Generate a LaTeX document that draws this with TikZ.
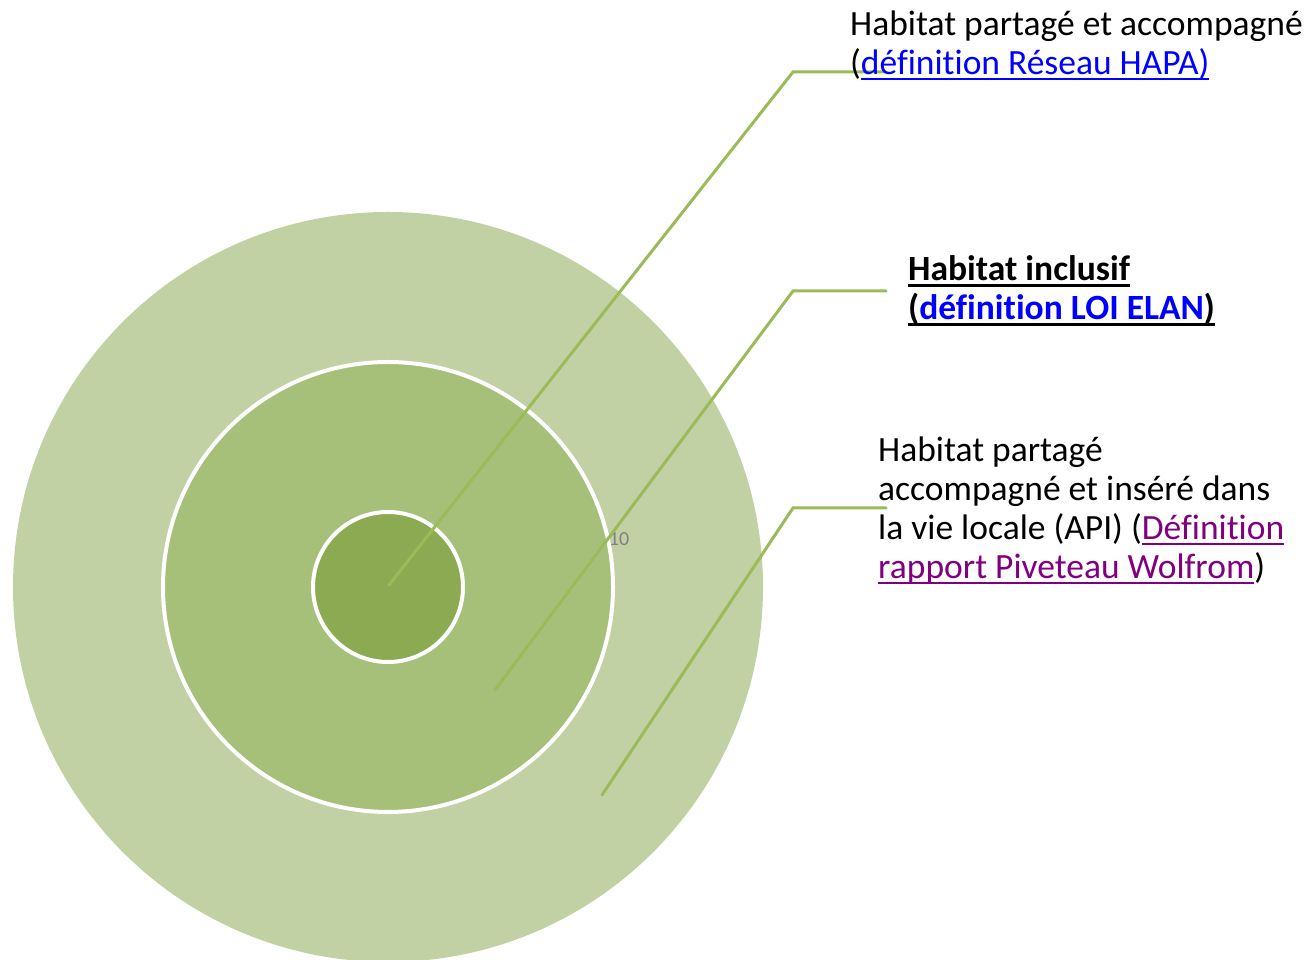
\documentclass[tikz,border=0pt]{standalone}
\usepackage{fontspec}
\setmainfont{Carlito}[Ligatures=NoCommon]
\definecolor{ringout}{RGB}{193,209,164}
\definecolor{ringmid}{RGB}{166,192,121}
\definecolor{ringin}{RGB}{140,170,81}
\definecolor{leadgreen}{RGB}{155,187,89}
\definecolor{linkblue}{RGB}{0,0,255}
\definecolor{linkpurple}{RGB}{128,0,128}
% underline: [thickness]{text}, rule at a fixed depth below the baseline
\newcommand{\undl}[2][2pt]{\setbox0\hbox{#2}\dp0=0pt\vtop{\box0\kern3.5pt\hrule height #1}}
\begin{document}
\begin{tikzpicture}[x=1pt,y=1pt,line cap=round]
			\tikzset{lead/.style={draw=leadgreen,line width=3pt},
				ring/.style={draw=white,line width=4pt},
				lab/.style={anchor=base west,align=left,inner sep=0pt,font=\fontsize{35.5}{39}\selectfont}}
			\useasboundingbox (0,0) rectangle (1308,960);
			\clip (0,0) rectangle (1308,960);
			\path 
			(388,373)coordinate(O)
			(389,375)coordinate(S1)
			(495,270)coordinate(S2)
			(602,165)coordinate(S3)
			(793,888)coordinate(E1)
			(793,669)coordinate(E2)
			(793,452)coordinate(E3)
			(886,888)coordinate(T1)
			(886,669)coordinate(T2)
			(886,452)coordinate(T3)
			;
			\fill[ringout] (O) circle (375);
			\filldraw[ring,fill=ringmid] (O) circle (225);
			\filldraw[ring,fill=ringin] (O) circle (75);
			\node[text=gray,font=\fontsize{20}{22}\selectfont,inner sep=0pt] (ten) at (619,421) {10};
			
			\foreach \s/\e/\t in {S1/E1/T1,S2/E2/T2,S3/E3/T3}\draw[lead] (\s)--(\e)--(\t);
			
			% base anchor = baseline of the last line
			\node[lab] (hapa) at (850,885) {Habitat partagé et accompagné\\
				(\textcolor{linkblue}{\undl{définition Réseau HAPA)}}};
			\node[lab,font=\fontsize{35.5}{39}\selectfont\bfseries] (elan) at (908,640) {\undl[3pt]{Habitat inclusif}\\
				\undl[3pt]{(\textcolor{linkblue}{définition LOI ELAN})}};
			\node[lab] (api) at (878,381) {Habitat partagé\\
				accompagné et inséré dans\\
				la vie locale (API) (\textcolor{linkpurple}{\undl{Définition}}\\
				\textcolor{linkpurple}{\undl{rapport Piveteau Wolfrom}})};
		\end{tikzpicture}
\end{document}
